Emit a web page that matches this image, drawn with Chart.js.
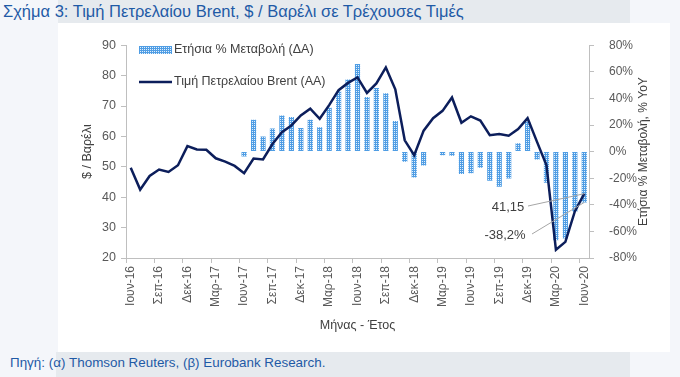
<!DOCTYPE html>
<html>
<head>
<meta charset="utf-8">
<script src="https://cdn.jsdelivr.net/npm/chart.js@4.4.0/dist/chart.umd.min.js"></script>
<style>
html, body { margin: 0; padding: 0; width: 680px; height: 377px; overflow: hidden; background: #f4f6fa; font-family: 'Liberation Sans', Arial, sans-serif; }
#topband { position: absolute; left: 58px; top: 0; width: 572px; height: 23px; background: #e6eaee; }
#botband { position: absolute; left: 56px; top: 352px; width: 574px; height: 25px; background: #e6eaee; }
#title { position: absolute; left: 3px; top: 2px; font-size: 16.5px; color: #1f5aa6; white-space: nowrap; }
#source { position: absolute; left: 10px; top: 355px; font-size: 13.4px; color: #1f5aa6; white-space: nowrap; }
#panel { position: absolute; left: 58px; top: 23px; width: 612px; height: 329px; background: #fff; }
</style>
</head>
<body>
<div id="topband"></div>
<div id="botband"></div>
<div id="title">Σχήμα 3: Τιμή Πετρελαίου Brent, $ / Βαρέλι σε Τρέχουσες Τιμές</div>
<div id="panel"><canvas id="brentChart" width="612" height="329"></canvas></div>
<div id="source">Πηγή: (α) Thomson Reuters, (β) Eurobank Research.</div>
<script>
// Μήνες (Ιουν-16 έως Ιουν-20)
const monthNames = ['Ιαν', 'Φεβ', 'Μαρ', 'Απρ', 'Μαϊ', 'Ιουν', 'Ιουλ', 'Αυγ', 'Σεπ', 'Οκτ', 'Νοε', 'Δεκ'];
const labels = [];
for (let i = 0; i < 49; i++) {
    const m = (5 + i) % 12;
    const y = 16 + Math.floor((5 + i) / 12);
    labels.push(monthNames[m] + '-' + y);
}

// Τιμή Brent, $/βαρέλι (ΑΑ)
const brent = [
    49.7, 42.5, 47.0, 49.1, 48.3, 50.5, 56.8,
    55.7, 55.6, 52.8, 51.7, 50.3, 47.9, 52.7, 52.4, 57.5, 61.4, 63.6, 66.9,
    69.1, 65.8, 70.3, 75.2, 77.6, 79.4, 74.3, 77.4, 82.7, 75.5, 58.7, 53.8,
    61.9, 66.0, 68.4, 72.8, 64.5, 66.6, 65.2, 60.4, 60.8, 60.2, 62.4, 66.0,
    58.2, 50.5, 22.7, 25.3, 35.3, 41.15
];

// Ετήσια % μεταβολή (ΔΑ) - από Ιουν-17
const yoy = [
    null, null, null, null, null, null, null, null, null, null, null, null,
    -3.6, 24.0, 11.4, 17.3, 27.1, 26.0, 17.7,
    24.0, 18.3, 33.0, 45.3, 54.2, 65.8, 41.0, 47.8, 43.8, 23.0, -7.6, -19.5,
    -10.4, 0.4, -2.7, -3.2, -16.9, -16.2, -12.2, -21.9, -26.5, -20.2, 6.3, 22.7,
    -6.0, -23.5, -66.7, -65.3, -45.2, -38.2
];

const lineColor = '#0c1e5b';
const axisColor = '#bfbfbf';
const tickColor = '#595959';
const fontFamily = "'Liberation Sans', Arial, sans-serif";

// μοτίβο με κουκκίδες για τις μπάρες
function makePattern() {
    const c = document.createElement('canvas');
    c.width = 2; c.height = 2;
    const g = c.getContext('2d');
    g.fillStyle = '#4f9de4';
    g.fillRect(0, 0, 2, 2);
    g.fillStyle = '#e3f0fb';
    g.fillRect(0, 0, 1, 1);
    return g.createPattern(c, 'repeat');
}
const barPattern = makePattern();

const extras = {
    id: 'extras',
    afterDraw(chart) {
        const ctx = chart.ctx;
        const area = chart.chartArea;
        const xs = chart.scales.x, yL = chart.scales.yL, yR = chart.scales.yR;
        const ds = chart.data.datasets;
        ctx.save();

        // υπόμνημα
        ctx.fillStyle = barPattern;
        ctx.fillRect(81, 23, 33, 8);
        ctx.strokeStyle = lineColor;
        ctx.lineWidth = 2.5;
        ctx.beginPath();
        ctx.moveTo(81, 59);
        ctx.lineTo(114, 59);
        ctx.stroke();
        ctx.fillStyle = '#404040';
        ctx.font = '12.5px ' + fontFamily;
        ctx.textBaseline = 'middle';
        ctx.textAlign = 'left';
        ctx.fillText(ds[1].label, 116, 27);
        ctx.fillText(ds[0].label, 116, 59);

        // τίτλοι αξόνων
        const cy = (area.top + area.bottom) / 2;
        ctx.fillStyle = '#404040';
        ctx.textAlign = 'center';
        ctx.save();
        ctx.translate(30, cy);
        ctx.rotate(-Math.PI / 2);
        ctx.fillText('$ / Βαρέλι', 0, 0);
        ctx.restore();
        ctx.save();
        ctx.translate(586, cy);
        ctx.rotate(-Math.PI / 2);
        ctx.font = '12px ' + fontFamily;
        ctx.fillText('Ετήσια % Μεταβολή, % YoY', 0, 0);
        ctx.restore();
        ctx.fillText('Μήνας - Έτος', (area.left + area.right) / 2, 303);

        // ετικέτες τελευταίων τιμών
        const n = labels.length - 1;
        const px = xs.getPixelForValue(n);
        const p1 = yL.getPixelForValue(brent[n]);
        const p2 = yR.getPixelForValue(yoy[n]);
        ctx.strokeStyle = '#a6a6a6';
        ctx.lineWidth = 1;
        ctx.beginPath();
        ctx.moveTo(470, 183);
        ctx.lineTo(px, p1);
        ctx.moveTo(474, 211);
        ctx.lineTo(px, p2);
        ctx.stroke();
        ctx.font = '13px ' + fontFamily;
        ctx.fillStyle = '#404040';
        ctx.fillText(brent[n].toFixed(2).replace('.', ','), 450, 184);
        ctx.fillText(yoy[n].toFixed(1).replace('.', ',') + '%', 447, 212);
        ctx.restore();
    }
};

const chart = new Chart(document.getElementById('brentChart').getContext('2d'), {
    type: 'bar',
    data: {
        labels: labels,
        datasets: [{
            type: 'line',
            label: 'Τιμή Πετρελαίου Brent (ΑΑ)',
            data: brent,
            yAxisID: 'yL',
            borderColor: lineColor,
            borderWidth: 2.5,
            pointRadius: 0,
            tension: 0,
            order: 0
        }, {
            type: 'bar',
            label: 'Ετήσια % Μεταβολή (ΔΑ)',
            data: yoy,
            yAxisID: 'yR',
            backgroundColor: barPattern,
            borderWidth: 0,
            barPercentage: 0.55,
            categoryPercentage: 1,
            order: 1
        }]
    },
    options: {
        responsive: false,
        animation: false,
        devicePixelRatio: 1,
        layout: { padding: { top: 19, left: 0, right: 0, bottom: 0 } },
        plugins: {
            legend: { display: false },
            tooltip: { enabled: false }
        },
        scales: {
            x: {
                offset: true,
                grid: {
                    offset: true,
                    drawOnChartArea: false,
                    tickLength: 5,
                    color: c => c.index % 3 === 0 ? axisColor : 'rgba(0,0,0,0)'
                },
                border: { color: axisColor },
                ticks: {
                    autoSkip: false,
                    minRotation: 90,
                    maxRotation: 90,
                    padding: 3,
                    color: tickColor,
                    font: { family: fontFamily, size: 12 },
                    callback: (v, i) => i % 3 === 0 ? labels[i] : ''
                },
                afterFit: s => { s.height = 94; }
            },
            yL: {
                position: 'left',
                min: 20,
                max: 90,
                grid: { drawOnChartArea: false, tickLength: 5, color: axisColor },
                border: { color: axisColor },
                ticks: { stepSize: 10, padding: 5, color: tickColor, font: { family: fontFamily, size: 12.5 } },
                afterFit: s => { s.width = 68; }
            },
            yR: {
                position: 'right',
                min: -80,
                max: 80,
                grid: { drawOnChartArea: false, tickLength: 5, color: axisColor },
                border: { color: axisColor },
                ticks: {
                    stepSize: 20,
                    padding: 15,
                    color: tickColor,
                    font: { family: fontFamily, size: 12 },
                    callback: v => v + '%'
                },
                afterFit: s => { s.width = 81; }
            }
        }
    },
    plugins: [extras]
});
</script>
</body>
</html>
